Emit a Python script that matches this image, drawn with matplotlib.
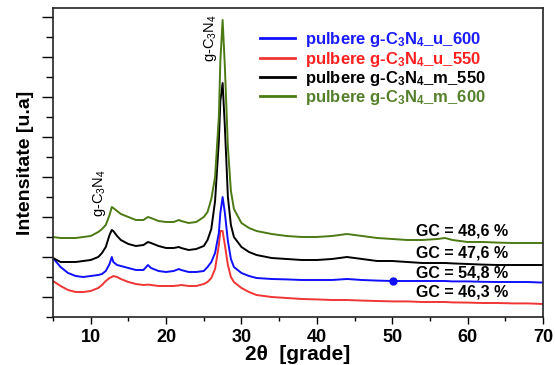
import matplotlib
matplotlib.use("Agg")
import matplotlib.pyplot as plt
from matplotlib.lines import Line2D

plt.rcParams['font.family'] = ['Liberation Sans', 'DejaVu Sans']
plt.rcParams['mathtext.fontset'] = 'custom'
plt.rcParams['mathtext.rm'] = 'Liberation Sans'
plt.rcParams['mathtext.bf'] = 'Liberation Sans:bold'
plt.rcParams['mathtext.default'] = 'rm'

two_theta = [5, 6, 7, 8, 9, 10, 11, 11.5, 12, 12.5, 12.8, 13, 13.5, 14, 15, 16, 17, 17.6, 18, 19, 20,
             21, 21.7, 22, 23, 24, 25, 25.5, 26, 26.5, 27, 27.2, 27.5, 27.8, 28.2, 28.6, 29, 30, 31, 32,
             34, 36, 38, 40, 42, 44, 46, 48, 50, 52, 54, 56, 57, 58, 60, 62, 64, 66, 68, 70]

u_600 = [2.95, 2.5, 2.2, 2.05, 2.0, 2.05, 2.1, 2.15, 2.3, 2.65, 3.0, 2.75, 2.6, 2.55, 2.45, 2.35, 2.35, 2.6, 2.45, 2.3, 2.25,
         2.3, 2.4, 2.35, 2.25, 2.25, 2.3, 2.5, 2.75, 3.2, 4.2, 5.2, 6.0, 5.2, 3.8, 2.9, 2.5, 2.2, 2.05, 1.95,
         1.9, 1.88, 1.85, 1.85, 1.85, 1.9, 1.85, 1.82, 1.8, 1.8, 1.8, 1.8, 1.8, 1.78, 1.78, 1.76, 1.75, 1.75, 1.75, 1.72]

u_550 = [1.8, 1.55, 1.35, 1.25, 1.25, 1.3, 1.45, 1.6, 1.8, 1.95, 2.0, 2.05, 2.0, 1.9, 1.75, 1.65, 1.6, 1.62, 1.6, 1.55, 1.55,
         1.55, 1.58, 1.6, 1.55, 1.55, 1.65, 1.75, 1.95, 2.4, 3.6, 4.3, 4.3, 3.6, 2.6, 2.0, 1.75, 1.45, 1.25, 1.1,
         1.0, 0.95, 0.9, 0.88, 0.85, 0.85, 0.82, 0.8, 0.78, 0.78, 0.75, 0.75, 0.75, 0.73, 0.72, 0.7, 0.7, 0.68, 0.68, 0.65]

m_550 = [2.95, 2.75, 2.75, 2.75, 2.8, 2.85, 3.0, 3.2, 3.5, 4.1, 4.35, 4.3, 4.05, 3.85, 3.65, 3.55, 3.6, 3.75, 3.7, 3.55, 3.45,
         3.45, 3.5, 3.45, 3.35, 3.4, 3.55, 3.85, 4.4, 5.8, 8.8, 10.8, 11.7, 9.5, 6.0, 4.6, 4.0, 3.5, 3.25, 3.1,
         2.95, 2.9, 2.85, 2.85, 2.9, 3.0, 2.9, 2.8, 2.8, 2.75, 2.7, 2.7, 2.7, 2.68, 2.65, 2.62, 2.6, 2.6, 2.6, 2.6]

m_600 = [4.0, 3.95, 3.95, 3.95, 4.0, 4.05, 4.25, 4.4, 4.6, 5.1, 5.5, 5.45, 5.3, 5.15, 5.0, 4.85, 4.85, 5.0, 4.95, 4.8, 4.75,
         4.75, 4.85, 4.8, 4.7, 4.75, 5.0, 5.25, 5.9, 7.0, 10.0, 12.8, 14.85, 12.5, 8.5, 6.3, 5.4, 4.7, 4.45, 4.3,
         4.15, 4.05, 4.0, 4.0, 4.05, 4.15, 4.05, 3.95, 3.9, 3.85, 3.85, 3.9, 3.95, 3.85, 3.75, 3.75, 3.72, 3.7, 3.7, 3.7]

series_labels = [r'pulbere g-C$_\mathbf{3}$N$_\mathbf{4}$_u_600',
                 r'pulbere g-C$_\mathbf{3}$N$_\mathbf{4}$_u_550',
                 r'pulbere g-C$_\mathbf{3}$N$_\mathbf{4}$_m_550',
                 r'pulbere g-C$_\mathbf{3}$N$_\mathbf{4}$_m_600']
line_colors = ['#1010ff', '#f03535', '#000000', '#4c7a14']
text_colors = ['#1a1aff', '#ff2020', '#000000', '#55802a']

gc_labels = ['GC = 48,6 %', 'GC = 47,6 %', 'GC = 54,8 %', 'GC = 46,3 %']
gc_x = [59.3, 59.3, 59.3, 59.3]
gc_y = [4.3, 3.2, 2.2, 1.25]

marker_x = [50.1]
marker_y = [1.8]

fig = plt.figure(figsize=(5.55, 3.65), dpi=100)
ax = fig.add_axes([53/555, 48/365, 490/555, 309/365])

ax.plot(two_theta, u_550, color=line_colors[1], lw=1.4)
ax.plot(two_theta, u_600, color=line_colors[0], lw=1.4)
ax.plot(two_theta, m_550, color=line_colors[2], lw=1.4)
ax.plot(two_theta, m_600, color=line_colors[3], lw=1.4)
ax.plot(marker_x, marker_y, 'o', color=line_colors[0], ms=5)

ax.set_xlim(5, 70)
ax.set_ylim(0, 15.45)
ax.set_xticks([10, 20, 30, 40, 50, 60, 70])
ax.set_xticks([5, 15, 25, 35, 45, 55, 65], minor=True)
ax.set_yticks([1, 3, 5, 7, 9, 11, 13, 15])
ax.set_yticks([0, 2, 4, 6, 8, 10, 12, 14], minor=True)
ax.set_yticklabels([])
ax.tick_params(axis='x', which='major', direction='out', length=5, width=1, labelsize=13, pad=4)
ax.tick_params(axis='x', which='minor', direction='out', length=3, width=1)
ax.tick_params(axis='y', which='major', direction='out', length=8, width=1)
ax.tick_params(axis='y', which='minor', direction='out', length=5, width=1)
for lab in ax.get_xticklabels():
    lab.set_fontweight('bold')
for sp in ax.spines.values():
    sp.set_linewidth(1.2)
    sp.set_color('#222222')

ax.set_xlabel(r'2θ  [grade]', fontsize=15, fontweight='bold', labelpad=-1)
ax.set_ylabel('Intensitate [u.a]', fontsize=14, fontweight='bold', labelpad=2)

ax.text(11.2, 5.0, r'g-C$_3$N$_4$', rotation=90, ha='center', va='bottom', fontsize=10.5)
ax.text(25.9, 12.75, r'g-C$_3$N$_4$', rotation=90, ha='center', va='bottom', fontsize=10.5)

for lbl, x, y in zip(gc_labels, gc_x, gc_y):
    ax.text(x, y, lbl, ha='center', va='center', fontsize=11.5, fontweight='bold')

handles = [Line2D([], [], color=c, lw=2) for c in line_colors]
leg = ax.legend(handles, series_labels, loc='upper left', bbox_to_anchor=(0.422, 0.928),
                frameon=False, borderaxespad=0, borderpad=0, handlelength=2.1,
                handletextpad=0.6, labelspacing=0.02,
                prop={'weight': 'bold', 'size': 12})
for t, c in zip(leg.get_texts(), text_colors):
    t.set_color(c)

fig.savefig('out.png', dpi=100)
